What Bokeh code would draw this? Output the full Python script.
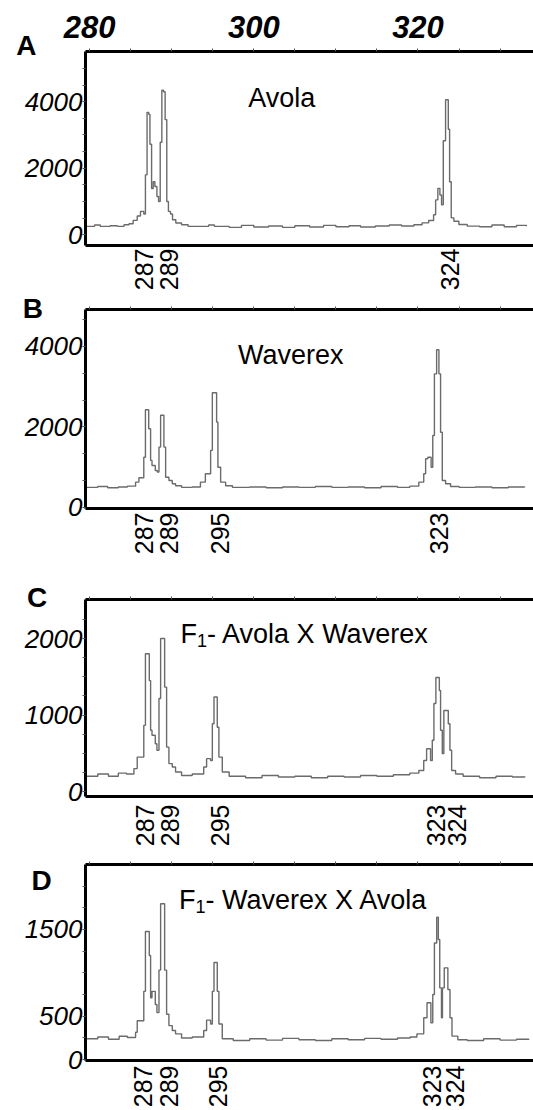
import math
from bokeh.plotting import figure
from bokeh.models import Range1d, LinearAxis, FixedTicker, Label
from bokeh.layouts import column
from bokeh.embed import file_html
from bokeh.resources import INLINE

FONT = "Liberation Sans"
TRACE_COLOR = "#6b6b6b"

# ---------------- data (size axis in bp, signal in RFU) ----------------
size_ticks = [280, 300, 320]
size_minor = [275, 285, 290, 295, 305, 310, 315, 325, 330, 335]

avola_trace = [
    (279.5, 250), (280.6, 290), (281.3, 250), (282.5, 270), (283.4, 250), (284.2, 300),
    (284.8, 330), (285.3, 430), (285.8, 560), (286.2, 700), (286.6, 620), (286.8, 1800),
    (287.0, 3680), (287.2, 3620), (287.35, 2720), (287.55, 1390), (287.75, 1590),
    (287.95, 1450), (288.2, 1150), (288.4, 1000), (288.6, 2780), (288.8, 4350),
    (289.0, 4300), (289.2, 3460), (289.4, 1000), (289.6, 700), (289.85, 620),
    (290.1, 450), (290.5, 350), (291.2, 300), (292.0, 250), (294.5, 290), (295.2, 250),
    (297.0, 220), (298.5, 280), (300.0, 230), (301.8, 260), (303.5, 220), (305.0, 270),
    (306.8, 230), (308.5, 280), (310.0, 240), (311.6, 270), (313.0, 230), (314.8, 260),
    (316.5, 290), (318.0, 260), (319.5, 300), (320.5, 355), (321.3, 424), (321.9, 600),
    (322.15, 1046), (322.42, 1393), (322.67, 1194), (322.87, 897), (323.08, 2824),
    (323.36, 4059), (323.69, 3170), (323.85, 1590), (324.05, 504), (324.37, 405),
    (324.98, 305), (326.0, 258), (327.5, 240), (329.0, 290), (330.5, 240), (332.0, 280),
    (333.2, 250),
]
waverex_trace = [
    (279.5, 500), (281.0, 520), (282.2, 490), (283.5, 510), (284.6, 530), (285.6, 630),
    (286.0, 740), (286.6, 1250), (286.8, 2430), (287.2, 1955), (287.43, 1170),
    (287.6, 1045), (288.0, 920), (288.25, 880), (288.45, 1500), (288.65, 2290),
    (289.05, 1500), (289.26, 750), (289.66, 670), (290.07, 590), (290.47, 540),
    (291.2, 500), (292.5, 510), (293.5, 630), (294.1, 840), (294.74, 1420), (294.95, 2850),
    (295.47, 2120), (295.63, 1000), (295.96, 630), (296.57, 540), (297.4, 500),
    (299.5, 510), (301.5, 490), (303.5, 510), (305.5, 500), (307.5, 520), (309.5, 500),
    (311.5, 510), (313.5, 490), (315.5, 520), (317.5, 500), (319.0, 530), (320.1, 630),
    (320.7, 840), (320.93, 1210), (321.2, 1250), (321.6, 1000), (321.8, 1790),
    (322.0, 3320), (322.27, 3920), (322.55, 3320), (322.75, 1870), (322.96, 670),
    (323.36, 590), (323.97, 520), (325.0, 500), (327.0, 510), (329.0, 490), (331.0, 510),
    (333.0, 500),
]
f1_aw_trace = [
    (279.5, 200), (281.0, 230), (282.3, 200), (283.5, 240), (284.5, 230), (285.4, 300),
    (285.8, 450), (286.6, 865), (286.8, 1800), (287.27, 1450), (287.43, 800),
    (287.6, 735), (288.0, 625), (288.2, 540), (288.45, 1215), (288.65, 2000),
    (289.14, 1365), (289.38, 580), (289.66, 365), (290.07, 320), (290.47, 255),
    (291.2, 210), (292.5, 230), (293.9, 320), (294.25, 430), (294.74, 405), (294.95, 885),
    (295.15, 1235), (295.55, 840), (295.75, 450), (296.16, 255), (297.0, 200),
    (299.0, 180), (301.0, 210), (303.0, 190), (305.0, 200), (307.0, 180), (309.0, 200),
    (311.0, 190), (313.0, 210), (315.0, 200), (317.0, 220), (319.0, 240), (320.1, 275),
    (320.7, 405), (321.05, 560), (321.53, 405), (321.74, 670), (321.94, 1150),
    (322.18, 1490), (322.6, 1320), (322.75, 800), (322.96, 495), (323.15, 1060),
    (323.69, 885), (323.89, 540), (324.1, 275), (324.58, 230), (325.5, 200),
    (327.5, 180), (329.5, 200), (331.5, 190), (333.0, 200),
]
f1_wa_trace = [
    (279.5, 240), (281.0, 260), (282.3, 235), (283.6, 270), (284.6, 255), (285.6, 316),
    (285.8, 448), (286.6, 787), (286.8, 1477), (287.27, 1200), (287.43, 712),
    (287.6, 787), (288.0, 636), (288.2, 542), (288.45, 1032), (288.65, 1797),
    (289.14, 1032), (289.38, 523), (289.66, 392), (290.07, 336), (290.47, 297),
    (291.2, 250), (292.5, 260), (293.9, 336), (294.25, 455), (294.74, 410), (294.95, 787),
    (295.15, 1119), (295.55, 787), (295.75, 410), (296.16, 240), (297.5, 220),
    (299.5, 240), (301.5, 225), (303.5, 245), (305.5, 230), (307.5, 220), (309.5, 240),
    (311.5, 230), (313.5, 245), (315.5, 235), (317.5, 250), (319.05, 260), (319.87, 297),
    (320.7, 482), (321.1, 655), (321.57, 425), (321.8, 750), (322.0, 1345),
    (322.28, 1642), (322.48, 1384), (322.65, 827), (322.86, 482), (322.98, 827),
    (323.2, 1058), (323.64, 808), (323.9, 482), (324.14, 271), (324.85, 230),
    (326.0, 220), (328.0, 240), (330.0, 225), (332.0, 235), (333.5, 230),
]

avola_alleles = ["287", "289", "324"]
avola_allele_pos = [286.6, 289.7, 323.9]
waverex_alleles = ["287", "289", "295", "323"]
waverex_allele_pos = [286.6, 289.7, 295.9, 322.6]
f1_aw_alleles = ["287", "289", "295", "323", "324"]
f1_aw_allele_pos = [286.75, 289.85, 295.85, 322.15, 324.8]
f1_wa_alleles = ["287", "289", "295", "323", "324"]
f1_wa_allele_pos = [286.55, 289.65, 295.65, 321.75, 324.45]

y_ticks_a = [0, 2000, 4000]
y_ticks_b = [0, 2000, 4000]
y_ticks_c = [0, 1000, 2000]
y_ticks_d = [0, 500, 1500]


def make_panel(trace, alleles, allele_pos, yticks, yminor, yrange, height,
               bt, bb, letter, letter_pos, show_top_labels, label_drop):
    p = figure(width=533, height=height,
               x_range=Range1d(279.5, 334.07), y_range=Range1d(*yrange),
               x_axis_location="above", toolbar_location=None,
               output_backend="svg",
               min_border_left=85, min_border_right=0,
               min_border_top=bt, min_border_bottom=bb,
               outline_line_color=None, background_fill_color="white",
               border_fill_color="white")
    p.grid.visible = False

    top = p.xaxis[0]
    top.axis_line_width = 3
    top.axis_line_color = "black"
    top.major_tick_in = 0
    top.major_tick_out = 3
    top.minor_tick_in = 0
    top.minor_tick_out = 3
    top.major_tick_line_color = "#555555"
    top.minor_tick_line_color = "#555555"
    if show_top_labels:
        top.ticker = FixedTicker(ticks=size_ticks, minor_ticks=size_minor)
        top.major_label_text_font = FONT
        top.major_label_text_font_style = "bold italic"
        top.major_label_text_font_size = "31px"
        top.major_label_text_color = "black"
        top.major_label_standoff = 11
    else:
        top.ticker = FixedTicker(ticks=[], minor_ticks=size_minor + size_ticks)
        top.major_label_standoff = 0

    left = p.yaxis[0]
    left.ticker = FixedTicker(ticks=yticks, minor_ticks=yminor)
    left.axis_line_width = 3
    left.axis_line_color = "black"
    left.major_tick_in = 0
    left.major_tick_out = 3
    left.minor_tick_in = 0
    left.minor_tick_out = 3
    left.major_tick_line_color = "#555555"
    left.minor_tick_line_color = "#555555"
    left.major_label_text_font = FONT
    left.major_label_text_font_style = "italic"
    left.major_label_text_font_size = "26px"
    left.major_label_text_color = "black"
    left.major_label_standoff = 0

    # bottom axis: allele size calls written under the peaks (reading upward)
    bottom = LinearAxis(ticker=FixedTicker(ticks=allele_pos, minor_ticks=[]),
                        major_label_overrides=dict(zip(allele_pos, alleles)),
                        major_label_orientation=math.pi / 2,
                        axis_line_width=3, axis_line_color="black",
                        major_tick_line_color=None, minor_tick_line_color=None,
                        major_tick_in=0, major_tick_out=0,
                        major_label_standoff=label_drop,
                        major_label_text_font=FONT, major_label_text_font_size="25px",
                        major_label_text_color="black")
    p.add_layout(bottom, "below")

    xs = [t[0] for t in trace]
    ys = [t[1] for t in trace]
    p.step(xs, ys, mode="after", line_color=TRACE_COLOR, line_width=1.4)

    p.add_layout(Label(x=letter_pos[0], y=letter_pos[1], text=letter, text_font=FONT,
                       text_font_style="bold", text_font_size="28px",
                       text_align="center", text_baseline="middle",
                       text_color="black"), "left")
    return p


pA = make_panel(avola_trace, avola_alleles, avola_allele_pos, y_ticks_a,
                [500, 1000, 1500, 2500, 3000, 3500, 4500, 5000], (-326, 5511),
                293, 51, 45, "A", (272.3, 5689), True, 3)
pA.add_layout(Label(x=303.4, y=4101, text="Avola", text_font=FONT, text_font_size="27px",
                    text_align="center", text_baseline="alphabetic", text_color="black"))

pB = make_panel(waverex_trace, waverex_alleles, waverex_allele_pos, y_ticks_b,
                [667, 1333, 2667, 3333, 4667], (-25, 4919),
                287, 16, 72, "B", (273.1, 4944), False, 4)
pB.add_layout(Label(x=304.5, y=3786, text="Waverex", text_font=FONT, text_font_size="27px",
                    text_align="center", text_baseline="alphabetic", text_color="black"))

pC = make_panel(f1_aw_trace, f1_aw_alleles, f1_aw_allele_pos, y_ticks_c,
                [250, 500, 750, 1250, 1500, 1750, 2250], (-65, 2510),
                272, 19, 56, "C", (273.6, 2536), False, 8)
pD = make_panel(f1_wa_trace, f1_wa_alleles, f1_wa_allele_pos, y_ticks_d,
                [250, 750, 1000, 1250, 1750, 2000], (-10, 2249),
                258, 12, 47, "D", (274.15, 2068), False, 5)

for p, x0, y0, rest in [(pC, 291.08, 2065, "- Avola X Waverex"),
                        (pD, 290.9, 1835, "- Waverex X Avola")]:
    p.add_layout(Label(x=x0, y=y0, text="F", text_font=FONT, text_font_size="27px",
                       text_align="left", text_baseline="alphabetic", text_color="black"))
    p.add_layout(Label(x=x0, y=y0, x_offset=16.5, y_offset=-6.5, text="1", text_font=FONT,
                       text_font_size="18px", text_align="left",
                       text_baseline="alphabetic", text_color="black"))
    p.add_layout(Label(x=x0, y=y0, x_offset=26.5, text=rest, text_font=FONT,
                       text_font_size="27px", text_align="left",
                       text_baseline="alphabetic", text_color="black"))

layout = column(pA, pB, pC, pD, spacing=0)
open("out.html", "w").write(file_html(layout, INLINE))
